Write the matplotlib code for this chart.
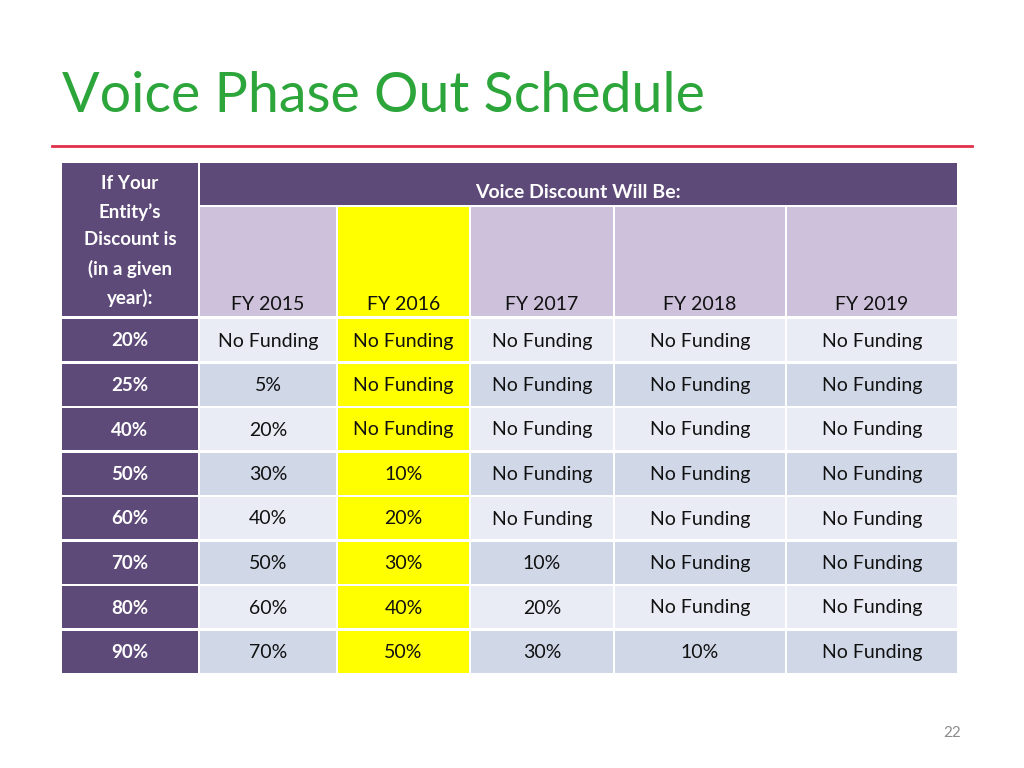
import matplotlib
matplotlib.use("Agg")
import matplotlib.pyplot as plt
from matplotlib.patches import Rectangle

title = "Voice Phase Out Schedule"
row_labels = ["20%", "25%", "40%", "50%", "60%", "70%", "80%", "90%"]
years = ["FY 2015", "FY 2016", "FY 2017", "FY 2018", "FY 2019"]
NF = "No Funding"
col_2015 = [NF, "5%", "20%", "30%", "40%", "50%", "60%", "70%"]
col_2016 = [NF, NF, NF, "10%", "20%", "30%", "40%", "50%"]
col_2017 = [NF, NF, NF, NF, NF, "10%", "20%", "30%"]
col_2018 = [NF, NF, NF, NF, NF, NF, NF, "10%"]
col_2019 = [NF, NF, NF, NF, NF, NF, NF, NF]
columns = [col_2015, col_2016, col_2017, col_2018, col_2019]
highlight_col = 1

FONT = "Lato"
PURPLE = "#5E4A78"
LILAC = "#CDC1DB"
YELLOW = "#FFFF00"
LIGHT = "#E9ECF4"
DARK = "#D0D8E8"

fig = plt.figure(figsize=(10.24, 7.68), dpi=100)
ax = fig.add_axes([0, 0, 1, 1])
ax.set_xlim(0, 1024); ax.set_ylim(768, 0); ax.axis("off")

ax.text(62, 97, title, fontsize=40, color="#2CA53A", family=FONT, va="center", ha="left")
ax.plot([52, 972], [146, 146], color="#E0304A", lw=2)

col_x = [(200, 336), (338, 469), (471, 613), (615, 785), (787, 957)]

def rect(x0, y0, x1, y1, c):
    ax.add_patch(Rectangle((x0, y0), x1 - x0, y1 - y0, facecolor=c, edgecolor="none"))

# header
rect(62, 163, 198, 316, PURPLE)
ax.text(130, 241, "If Your\nEntity’s\nDiscount is\n(in a given\nyear):", ha="center", va="center",
        color="white", fontsize=13.5, weight="bold", family=FONT, linespacing=1.75)
rect(200, 163, 957, 205, PURPLE)
ax.text(578, 192, "Voice Discount Will Be:", ha="center", va="center", color="white",
        fontsize=14, weight="bold", family=FONT)
for j, (x0, x1) in enumerate(col_x):
    rect(x0, 207, x1, 316, YELLOW if j == highlight_col else LILAC)
    ax.text((x0 + x1) / 2, 304, years[j], ha="center", va="center", fontsize=14, family=FONT, color="#111111")

# body
pitch = 44.5
for i, lab in enumerate(row_labels):
    y0 = 319 + i * pitch
    y1 = y0 + 42
    yc = (y0 + y1) / 2 + 1
    rect(62, y0, 198, y1, PURPLE)
    ax.text(130, yc, lab, ha="center", va="center", color="white", fontsize=13.5,
            weight="bold", family=FONT)
    for j, (x0, x1) in enumerate(col_x):
        c = YELLOW if j == highlight_col else (LIGHT if i % 2 == 0 else DARK)
        rect(x0, y0, x1, y1, c)
        ax.text((x0 + x1) / 2, yc, columns[j][i], ha="center", va="center",
                fontsize=14, family=FONT, color="#111111")

ax.text(952, 733, "22", ha="center", va="center", fontsize=11, color="#8C8C8C", family=FONT)

fig.savefig("out.png", dpi=100)
